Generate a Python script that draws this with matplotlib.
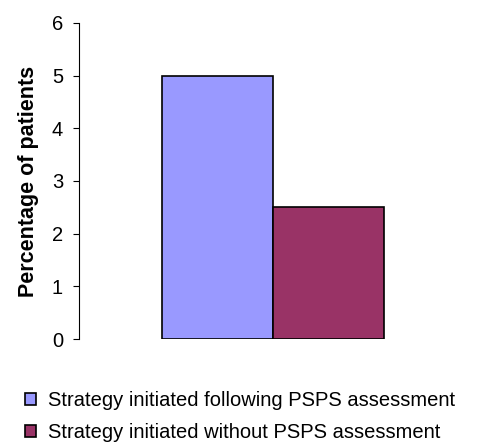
import numpy as np
import matplotlib
matplotlib.use("Agg")
import matplotlib.pyplot as plt
from matplotlib.patches import Patch

plt.rcParams['font.family'] = ['Liberation Sans', 'DejaVu Sans']

# percentage of patients per strategy
series_labels = ["Strategy initiated following PSPS assessment",
                 "Strategy initiated without PSPS assessment"]
values = [5.0, 2.5]
colors = ["#9999FF", "#993366"]
yticks = [0, 1, 2, 3, 4, 5, 6]

fig = plt.figure(figsize=(4.91, 4.47), dpi=100)
ax = fig.add_axes([0.161, 0.2416, 0.790, 0.707])

bar_w = 0.5
offsets = [-bar_w / 2, bar_w / 2]
for off, val, col, lab in zip(offsets, values, colors, series_labels):
    ax.bar(off, val, width=bar_w, color=col, edgecolor="black", linewidth=1.2, label=lab)

ax.set_xlim(-0.874, 0.874)
ax.set_ylim(0, 6)
ax.set_yticks(yticks)
ax.set_xticks([])
for s in ["top", "right", "bottom"]:
    ax.spines[s].set_visible(False)
ax.spines["left"].set_linewidth(0.8)
ax.tick_params(axis="y", direction="out", length=4.5, width=0.8, labelsize=14.5, pad=7)
ax.set_ylabel("Percentage of patients", fontsize=15.5, fontweight="bold", labelpad=9)

handles = [Patch(facecolor=c, edgecolor="black", linewidth=1.2) for c in colors]
fig.legend(handles, series_labels, loc="upper left", bbox_to_anchor=(0.05, 0.125),
           frameon=False, fontsize=14.5, handlelength=0.55, handleheight=0.55,
           handletextpad=0.6, labelspacing=0.65, borderpad=0, borderaxespad=0)

fig.savefig("out.png", dpi=100)
